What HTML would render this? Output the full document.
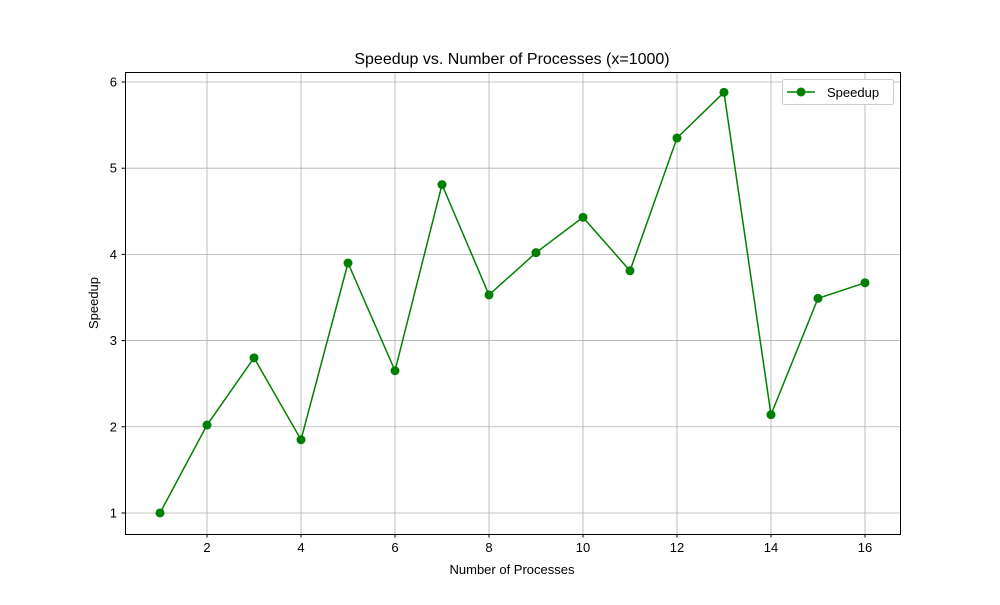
<!DOCTYPE html>
<html><head><meta charset="utf-8"><style>
body{margin:0;background:#fff;}
svg text{font-family:"Liberation Sans","DejaVu Sans",sans-serif;}
</style></head><body>
<svg id="chart" width="1000" height="600" xmlns="http://www.w3.org/2000/svg">
<rect width="1000" height="600" fill="#fff"/>
<g id="grid"></g>
<g id="ticks"></g>
<g id="series"></g>
<rect x="125.5" y="72.5" width="775" height="462" fill="none" stroke="#000" stroke-width="1"/>
<text x="512" y="64" font-size="16" text-anchor="middle">Speedup vs. Number of Processes (x=1000)</text>
<text x="512" y="574" font-size="13" text-anchor="middle">Number of Processes</text>
<text x="98" y="303" font-size="13" text-anchor="middle" transform="rotate(-90 98 303)">Speedup</text>
<g>
<rect x="782.5" y="79.5" width="111" height="25" rx="2" fill="#fff" stroke="#ccc"/>
<line x1="787" y1="92" x2="815" y2="92" stroke="#008000" stroke-width="1.5"/>
<circle cx="801" cy="92" r="4.5" fill="#008000"/>
<text x="827" y="97" font-size="13">Speedup</text>
</g>
</svg>
<script>
const processes=[1,2,3,4,5,6,7,8,9,10,11,12,13,14,15,16];
const speedups=[1.0,2.02,2.8,1.85,3.9,2.65,4.81,3.53,4.02,4.43,3.81,5.35,5.88,2.14,3.49,3.67];
const xTicks=[2,4,6,8,10,12,14,16];
const yTicks=[1,2,3,4,5,6];
const NS="http://www.w3.org/2000/svg";
const X0=125,X1=900,Y0=534,Y1=72;
const xmin=0.255,xmax=16.745,ymin=0.756,ymax=6.116;
function sx(v){return X0+(v-xmin)/(xmax-xmin)*(X1-X0);}
function sy(v){return Y0-(v-ymin)/(ymax-ymin)*(Y0-Y1);}
function mk(tag,attrs,parent){const e=document.createElementNS(NS,tag);for(const k in attrs)e.setAttribute(k,attrs[k]);parent.appendChild(e);return e;}
const grid=document.getElementById('grid'),ticks=document.getElementById('ticks'),series=document.getElementById('series');
xTicks.forEach(t=>{const x=sx(t);
const g=mk('line',{x1:x,x2:x,y1:Y1,y2:Y0,stroke:'#b0b0b0','stroke-width':0.8},grid);


const tk=mk('line',{x1:x,x2:x,y1:Y0,y2:Y0+3.5,stroke:'#000'},ticks);


const tl=mk('text',{x:x,y:Y0+18,'font-size':13,'text-anchor':'middle'},ticks);tl.textContent=t;

});
yTicks.forEach(t=>{const y=sy(t);
const g=mk('line',{x1:X0,x2:X1,y1:y,y2:y,stroke:'#b0b0b0','stroke-width':0.8},grid);


const tk=mk('line',{x1:X0-3.5,x2:X0,y1:y,y2:y,stroke:'#000'},ticks);


const tl=mk('text',{x:X0-8,y:y+4.5,'font-size':13,'text-anchor':'end'},ticks);tl.textContent=t;

});
const pts=processes.map((p,i)=>sx(p)+','+sy(speedups[i])).join(' ');
const line=mk('polyline',{points:pts,fill:'none',stroke:'#008000','stroke-width':1.5},series);


processes.forEach((p,i)=>{const c=mk('circle',{cx:sx(p),cy:sy(speedups[i]),r:4.5,fill:'#008000'},series);

});
</script>
</body></html>
